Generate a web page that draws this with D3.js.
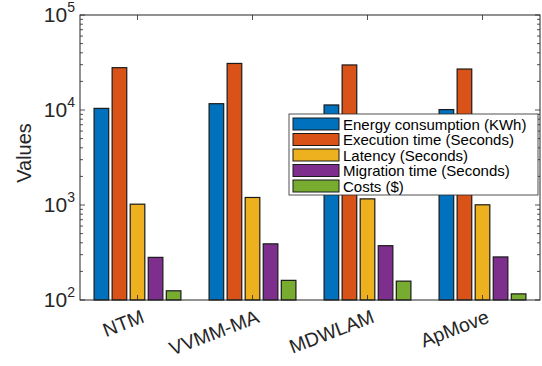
<!DOCTYPE html>
<html>
<head>
<meta charset="utf-8">
<script src="https://cdn.jsdelivr.net/npm/d3@7"></script>
<style>
  body { margin: 0; background: #fff; }
  svg { display: block; font-family: "Liberation Sans", Arial, sans-serif; }
</style>
</head>
<body>
<svg id="barChart"></svg>
<script>
const categories = ["NTM", "VVMM-MA", "MDWLAM", "ApMove"];
const seriesNames = [
  "Energy consumption (KWh)",
  "Execution time (Seconds)",
  "Latency (Seconds)",
  "Migration time (Seconds)",
  "Costs ($)"
];
const energy = [10400, 11650, 11300, 10100];
const execution = [27900, 30900, 29800, 27000];
const latency = [1020, 1200, 1160, 1005];
const migration = [281, 390, 373, 284];
const costs = [125, 161, 158, 116];
const yTickValues = [100, 1000, 10000, 100000];
const yTickExponents = [2, 3, 4, 5];

const seriesValues = [energy, execution, latency, migration, costs];
const colors = ["#0072BD", "#D95319", "#EDB120", "#7E2F8E", "#77AC30"];

function getChartConfig() {
  const dimensions = {
    width: 542,
    height: 366,
    margin: { top: 15, bottom: 66, left: 80, right: 2 }
  };
  const chart = d3.select("#barChart")
    .attr("width", dimensions.width)
    .attr("height", dimensions.height);
  return {
    dimensions,
    container: chart,
    innerWidth: dimensions.width - dimensions.margin.left - dimensions.margin.right,
    innerHeight: dimensions.height - dimensions.margin.top - dimensions.margin.bottom
  };
}

function getScales(config) {
  // bar axis like matlab: xlim [0.5, 4.5]
  const xScale = d3.scaleLinear()
    .domain([0.5, categories.length + 0.5])
    .range([0, config.innerWidth]);
  const yScale = d3.scaleLog()
    .domain([100, 100000])
    .range([config.innerHeight, 0]);
  return { xScale, yScale };
}

function drawBars(config, scales) {
  const { xScale, yScale } = scales;
  const { margin } = config.dimensions;
  const g = config.container.append("g")
    .attr("transform", `translate(${margin.left},${margin.top})`);
  const unit = xScale(2) - xScale(1);
  const step = unit * 0.157;
  const barWidth = step * 0.81;

  seriesValues.forEach((values, s) => {
    g.selectAll(null)
      .data(values)
      .enter()
      .append("rect")
      .attr("x", (d, i) => xScale(i + 1) + (s - 2) * step - barWidth / 2)
      .attr("y", d => yScale(d))
      .attr("width", barWidth)
      .attr("height", d => yScale(100) - yScale(d))
      .attr("fill", colors[s])
      .attr("stroke", "#1a1a1a")
      .attr("stroke-width", 1.2);
  });
}

function drawAxes(config, scales) {
  const { xScale, yScale } = scales;
  const { margin } = config.dimensions;
  const w = config.innerWidth;
  const h = config.innerHeight;
  const g = config.container.append("g")
    .attr("transform", `translate(${margin.left},${margin.top})`);

  const minorTicks = [];
  for (let e = 2; e < 5; e++) {
    for (let k = 2; k <= 9; k++) minorTicks.push(k * Math.pow(10, e));
  }

  [0, w].forEach(x0 => {
    const dir = x0 === 0 ? 1 : -1;
    g.selectAll(null)
      .data(minorTicks)
      .enter()
      .append("line")
      .attr("x1", x0).attr("x2", x0 + dir * 3)
      .attr("y1", d => yScale(d)).attr("y2", d => yScale(d))
      .attr("stroke", "#262626").attr("stroke-width", 0.8);
    g.selectAll(null)
      .data(yTickValues)
      .enter()
      .append("line")
      .attr("x1", x0).attr("x2", x0 + dir * 5)
      .attr("y1", d => yScale(d)).attr("y2", d => yScale(d))
      .attr("stroke", "#262626").attr("stroke-width", 0.8);
  });

  [0, h].forEach(y0 => {
    const dir = y0 === 0 ? 1 : -1;
    g.selectAll(null)
      .data(categories)
      .enter()
      .append("line")
      .attr("x1", (d, i) => xScale(i + 1)).attr("x2", (d, i) => xScale(i + 1))
      .attr("y1", y0).attr("y2", y0 + dir * 5)
      .attr("stroke", "#262626").attr("stroke-width", 0.8);
  });

  g.append("rect")
    .attr("width", w).attr("height", h)
    .attr("fill", "none")
    .attr("stroke", "#262626").attr("stroke-width", 1);

  const yLabels = g.selectAll(null)
    .data(yTickValues)
    .enter()
    .append("text")
    .attr("x", -5)
    .attr("y", d => yScale(d) + 7)
    .attr("text-anchor", "end")
    .attr("fill", "#262626")
    .style("font-size", "21px");
  yLabels.append("tspan").text("10");
  yLabels.append("tspan")
    .attr("dy", -10)
    .style("font-size", "14px")
    .text((d, i) => yTickExponents[i]);

  g.selectAll(null)
    .data(categories)
    .enter()
    .append("text")
    .attr("text-anchor", "end")
    .attr("transform", (d, i) => `translate(${xScale(i + 1) + 8},${h + 22}) rotate(-21)`)
    .attr("fill", "#262626")
    .style("font-size", "19.5px")
    .text(d => d);

  config.container.append("text")
    .attr("transform", `translate(31,153) rotate(-90)`)
    .attr("text-anchor", "middle")
    .attr("fill", "#262626")
    .style("font-size", "20px")
    .text("Values");
}

function drawLegend(config) {
  const lg = config.container.append("g")
    .attr("transform", "translate(289,114)");
  lg.append("rect")
    .attr("width", 249).attr("height", 81)
    .attr("fill", "#fff")
    .attr("stroke", "#262626").attr("stroke-width", 0.8);
  const rows = lg.selectAll(null)
    .data(seriesNames)
    .enter()
    .append("g")
    .attr("transform", (d, i) => `translate(4,${4 + i * 15.5})`);
  rows.append("rect")
    .attr("width", 46).attr("height", 12)
    .attr("fill", (d, i) => colors[i])
    .attr("stroke", "#1a1a1a").attr("stroke-width", 1);
  rows.append("text")
    .attr("x", 50).attr("y", 11.5)
    .attr("fill", "#000")
    .style("font-size", "15px")
    .text(d => d);
}

function renderChart() {
  const config = getChartConfig();
  const scales = getScales(config);
  drawBars(config, scales);
  drawAxes(config, scales);
  drawLegend(config);
}

renderChart();
</script>
</body>
</html>
